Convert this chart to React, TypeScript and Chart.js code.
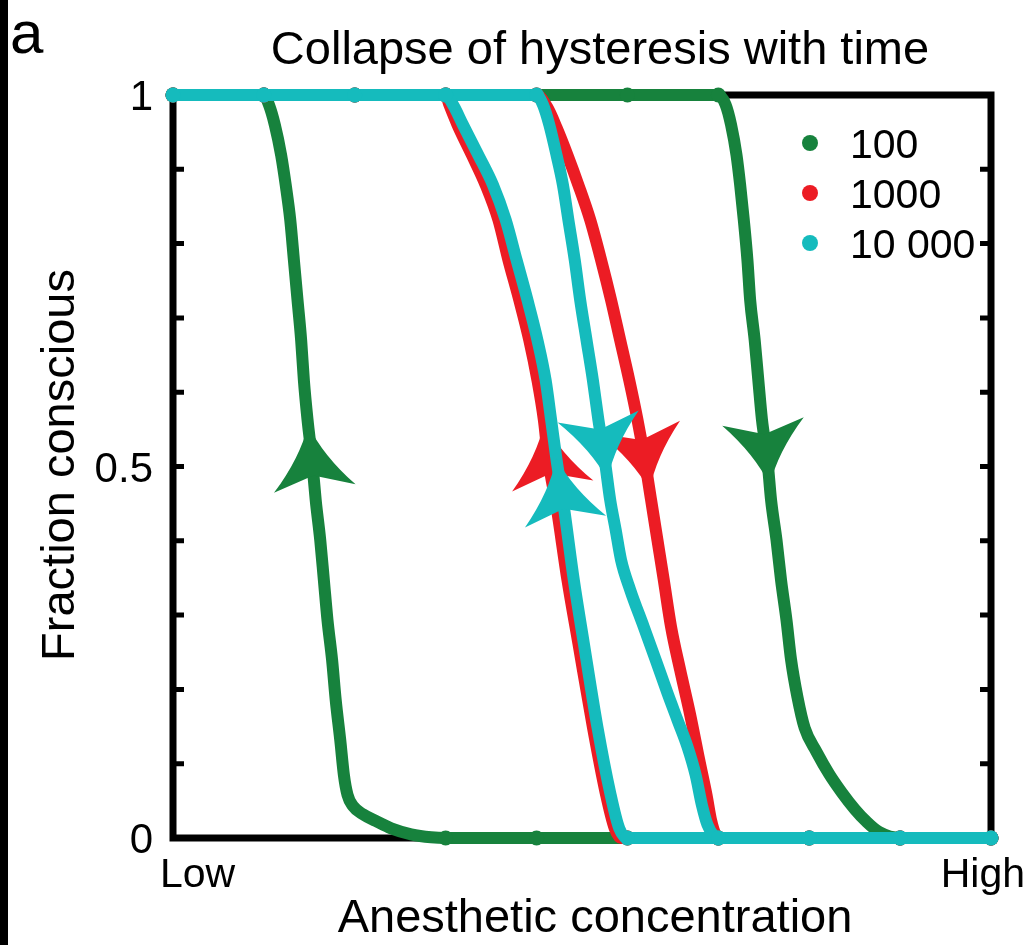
import React, { useEffect, useRef } from 'react';
import { Chart, registerables } from 'chart.js';

Chart.register(...registerables);

const FONT = '"Liberation Sans", Arial, Helvetica, sans-serif';

// Number of time steps per run, one loop per run
const seriesNames = ['100', '1000', '10 000'];
const seriesColors = ['#17823D', '#EC1C24', '#15BBBD'];

type Pt = [number, number];

// Branch traced while the concentration rises (falls from 1 to 0)
const rising100: Pt[] = [
  [0, 1], [1, 1], [2, 1], [3, 1], [4, 1], [5, 1], [6, 1],
  [6.08, 0.987], [6.14, 0.96], [6.2, 0.919], [6.24, 0.879], [6.28, 0.832],
  [6.32, 0.778], [6.35, 0.724], [6.4, 0.67], [6.44, 0.616], [6.48, 0.563],
  [6.54, 0.509], [6.58, 0.455], [6.64, 0.401], [6.69, 0.347], [6.75, 0.293],
  [6.8, 0.24], [6.87, 0.19], [6.95, 0.148], [7.08, 0.116], [7.22, 0.086],
  [7.36, 0.061], [7.5, 0.039], [7.63, 0.022], [7.77, 0.008], [8, 0], [9, 0],
];
// Branch traced while the concentration falls (recovers from 0 to 1)
const falling100: Pt[] = [
  [0, 1], [1, 1],
  [1.055, 0.987], [1.12, 0.96], [1.19, 0.919], [1.24, 0.879], [1.29, 0.832],
  [1.33, 0.778], [1.37, 0.724], [1.41, 0.67], [1.44, 0.616], [1.48, 0.563],
  [1.53, 0.509], [1.57, 0.455], [1.62, 0.401], [1.66, 0.347], [1.7, 0.293],
  [1.75, 0.24], [1.79, 0.186], [1.84, 0.132], [1.88, 0.085], [1.92, 0.058],
  [1.98, 0.043], [2.09, 0.032], [2.23, 0.023], [2.4, 0.013], [2.62, 0.005],
  [2.84, 0.001], [3, 0], [4, 0], [5, 0], [6, 0], [7, 0], [8, 0], [9, 0],
];

const rising1000: Pt[] = [
  [0, 1], [1, 1], [2, 1], [3, 1], [4, 1],
  [4.12, 0.983], [4.22, 0.956], [4.34, 0.919], [4.46, 0.879], [4.59, 0.832],
  [4.71, 0.778], [4.82, 0.724], [4.92, 0.67], [5.02, 0.616], [5.11, 0.563],
  [5.19, 0.509], [5.26, 0.455], [5.33, 0.401], [5.4, 0.347], [5.48, 0.284],
  [5.58, 0.226], [5.69, 0.166], [5.79, 0.105], [5.87, 0.058], [5.92, 0.024],
  [5.97, 0.004], [6, 0], [7, 0], [8, 0], [9, 0],
];
const falling1000: Pt[] = [
  [0, 1], [1, 1], [2, 1], [3, 1],
  [3.04, 0.987], [3.13, 0.96], [3.29, 0.919], [3.44, 0.879], [3.58, 0.832],
  [3.69, 0.778], [3.81, 0.724], [3.92, 0.67], [4.01, 0.616], [4.08, 0.563],
  [4.13, 0.509], [4.22, 0.446], [4.34, 0.347], [4.46, 0.262], [4.62, 0.149],
  [4.76, 0.061], [4.86, 0.013], [4.93, 0],
  [5, 0], [6, 0], [7, 0], [8, 0], [9, 0],
];

const rising10000: Pt[] = [
  [0, 1], [1, 1], [2, 1], [3, 1], [4, 1],
  [4.07, 0.987], [4.14, 0.96], [4.22, 0.919], [4.29, 0.879], [4.35, 0.832],
  [4.42, 0.778], [4.48, 0.724], [4.55, 0.67], [4.62, 0.616], [4.68, 0.563],
  [4.75, 0.509], [4.81, 0.455], [4.87, 0.415], [4.93, 0.374], [5.03, 0.334],
  [5.18, 0.284], [5.31, 0.24], [5.44, 0.195], [5.55, 0.159], [5.66, 0.123],
  [5.75, 0.085], [5.82, 0.044], [5.88, 0.018], [5.95, 0.003],
  [6, 0], [7, 0], [8, 0], [9, 0],
];
const falling10000: Pt[] = [
  [0, 1], [1, 1], [2, 1], [3, 1],
  [3.08, 0.987], [3.19, 0.96], [3.36, 0.919], [3.52, 0.879], [3.66, 0.832],
  [3.78, 0.778], [3.9, 0.724], [4.01, 0.67], [4.1, 0.616], [4.16, 0.563],
  [4.22, 0.509], [4.3, 0.446], [4.41, 0.347], [4.52, 0.262], [4.67, 0.149],
  [4.81, 0.061], [4.91, 0.013],
  [5, 0], [6, 0], [7, 0], [8, 0], [9, 0],
];

// Height of each arrow tip on its branch
const risingArrowAt = [0.475, 0.468, 0.482];
const fallingArrowAt = [0.556, 0.559, 0.511];

const yTickValues = [0, 0.5, 1];
const yTickLabels = ['0', '0.5', '1'];
const yMinorTicks = [0.1, 0.2, 0.3, 0.4, 0.5, 0.6, 0.7, 0.8, 0.9];
const xTickLabels = ['Low', 'High'];

const titleText = 'Collapse of hysteresis with time';
const xTitle = 'Anesthetic concentration';
const yTitle = 'Fraction conscious';
const panelLabel = 'a';

const toXY = (pts: Pt[]) => pts.map(([x, y]) => ({ x, y }));

function pointAtLevel(pts: any[], levelPx: number) {
  for (let i = 0; i < pts.length - 1; i++) {
    const a = pts[i];
    const b = pts[i + 1];
    if (a.y === b.y) continue;
    if ((a.y - levelPx) * (b.y - levelPx) <= 0) {
      const t = (levelPx - a.y) / (b.y - a.y);
      return { x: a.x + t * (b.x - a.x), y: levelPx };
    }
  }
  return null;
}

function drawArrowHead(ctx: CanvasRenderingContext2D, tx: number, ty: number, ux: number, uy: number, color: string) {
  const L = 64;
  const W = 41;
  const D = 13;
  const nx = -uy;
  const ny = ux;
  const P = (a: number, b: number): [number, number] => [tx + ux * a + nx * b, ty + uy * a + ny * b];
  ctx.save();
  ctx.fillStyle = color;
  ctx.beginPath();
  ctx.moveTo(...P(0, 0));
  ctx.quadraticCurveTo(...P(-L * 0.5, W * 0.28), ...P(-L, W));
  ctx.lineTo(...P(-L + D, 0));
  ctx.lineTo(...P(-L, -W));
  ctx.quadraticCurveTo(...P(-L * 0.5, -W * 0.28), ...P(0, 0));
  ctx.closePath();
  ctx.fill();
  ctx.restore();
}

const decorPlugin = {
  id: 'decor',
  beforeDraw(chart: any) {
    const { ctx, width, height } = chart;
    ctx.save();
    ctx.fillStyle = '#ffffff';
    ctx.fillRect(0, 0, width, height);
    ctx.fillStyle = '#000000';
    ctx.fillRect(0, 0, 8, height);
    ctx.restore();
  },
  beforeDatasetsDraw(chart: any) {
    const { ctx, chartArea: a, scales } = chart;
    const y = scales.y;
    ctx.save();
    ctx.strokeStyle = '#000000';
    ctx.lineWidth = 5;
    ctx.lineCap = 'butt';
    for (const v of yMinorTicks) {
      const py = y.getPixelForValue(v);
      ctx.beginPath();
      ctx.moveTo(a.left, py);
      ctx.lineTo(a.left + 11, py);
      ctx.moveTo(a.right, py);
      ctx.lineTo(a.right - 11, py);
      ctx.stroke();
    }
    ctx.lineWidth = 7;
    ctx.lineJoin = 'miter';
    ctx.strokeRect(a.left, a.top, a.right - a.left, a.bottom - a.top);
    ctx.restore();
  },
  afterDatasetDraw(chart: any, args: any) {
    const ds = chart.data.datasets[args.index];
    const meta = args.meta;
    const y = chart.scales.y;
    const pts = meta.data.map((p: any) => ({ x: p.x, y: p.y }));
    const lvl = ds.arrowAt as number;
    const tip = pointAtLevel(pts, y.getPixelForValue(lvl));
    const hi = pointAtLevel(pts, y.getPixelForValue(lvl + 0.04));
    const lo = pointAtLevel(pts, y.getPixelForValue(lvl - 0.04));
    if (!tip || !hi || !lo) return;
    // travel direction: toward 1 when recovering, toward 0 when going under
    let ux = ds.arrowUp ? hi.x - lo.x : lo.x - hi.x;
    let uy = ds.arrowUp ? hi.y - lo.y : lo.y - hi.y;
    const n = Math.hypot(ux, uy) || 1;
    ux /= n;
    uy /= n;
    drawArrowHead(chart.ctx, tip.x, tip.y, ux, uy, ds.borderColor);
  },
  afterDraw(chart: any) {
    const { ctx, scales } = chart;
    const x = scales.x;
    const y = scales.y;
    ctx.save();
    ctx.fillStyle = '#000000';
    ctx.textBaseline = 'alphabetic';

    ctx.font = `60px ${FONT}`;
    ctx.textAlign = 'left';
    ctx.fillText(panelLabel, 10, 53);

    ctx.font = `47px ${FONT}`;
    ctx.textAlign = 'center';
    ctx.fillText(titleText, 600, 64);
    ctx.fillText(xTitle, 595, 932);

    ctx.save();
    ctx.translate(74, 465);
    ctx.rotate(-Math.PI / 2);
    ctx.textAlign = 'center';
    ctx.fillText(yTitle, 0, 0);
    ctx.restore();

    ctx.font = `42px ${FONT}`;
    ctx.textAlign = 'right';
    yTickValues.forEach((v, i) => {
      ctx.fillText(yTickLabels[i], 153, y.getPixelForValue(v) + 15);
    });

    ctx.font = `41px ${FONT}`;
    ctx.textAlign = 'left';
    ctx.fillText(xTickLabels[0], x.getPixelForValue(x.min) - 13, 887);
    ctx.textAlign = 'right';
    ctx.fillText(xTickLabels[1], x.getPixelForValue(x.max) + 34, 887);

    // legend
    ctx.textAlign = 'left';
    seriesNames.forEach((name, i) => {
      const cy = 143 + i * 50;
      ctx.fillStyle = seriesColors[i];
      ctx.beginPath();
      ctx.arc(810, cy, 8, 0, Math.PI * 2);
      ctx.fill();
      ctx.fillStyle = '#000000';
      ctx.fillText(name, 850, cy + 15);
    });
    ctx.restore();
  },
};

function lineSet(pts: Pt[], color: string, arrowAt: number, arrowUp: boolean, order: number) {
  return {
    data: toXY(pts),
    borderColor: color,
    backgroundColor: color,
    borderWidth: 12,
    showLine: true,
    fill: false,
    cubicInterpolationMode: 'monotone',
    borderCapStyle: 'round',
    borderJoinStyle: 'round',
    pointRadius: (c: any) => {
      const r = c.raw;
      return r && Number.isInteger(r.x) && (r.y === 0 || r.y === 1) ? 7.5 : 0;
    },
    pointBorderWidth: 0,
    pointHoverRadius: 0,
    clip: false,
    order,
    arrowAt,
    arrowUp,
  };
}

export default function App() {
  const canvasRef = useRef<HTMLCanvasElement | null>(null);

  useEffect(() => {
    const canvas = canvasRef.current;
    if (!canvas) return;
    const chart = new Chart(canvas, {
      type: 'scatter',
      data: {
        datasets: [
          lineSet(falling10000, seriesColors[2], fallingArrowAt[2], true, 0),
          lineSet(rising10000, seriesColors[2], risingArrowAt[2], false, 1),
          lineSet(falling1000, seriesColors[1], fallingArrowAt[1], true, 2),
          lineSet(rising1000, seriesColors[1], risingArrowAt[1], false, 3),
          lineSet(falling100, seriesColors[0], fallingArrowAt[0], true, 4),
          lineSet(rising100, seriesColors[0], risingArrowAt[0], false, 5),
        ] as any,
      },
      options: {
        animation: false,
        responsive: false,
        devicePixelRatio: 1,
        events: [],
        layout: { padding: { left: 173, top: 95, right: 39, bottom: 107 } },
        scales: {
          x: { type: 'linear', min: 0, max: 9, display: false },
          y: { type: 'linear', min: 0, max: 1, display: false },
        },
        plugins: {
          legend: { display: false },
          title: { display: false },
          tooltip: { enabled: false },
        },
      },
      plugins: [decorPlugin],
    });
    return () => chart.destroy();
  }, []);

  return (
    <div style={{ position: 'absolute', left: 0, top: 0, width: 1030, height: 945 }}>
      <canvas ref={canvasRef} width={1030} height={945} style={{ display: 'block' }} />
    </div>
  );
}
